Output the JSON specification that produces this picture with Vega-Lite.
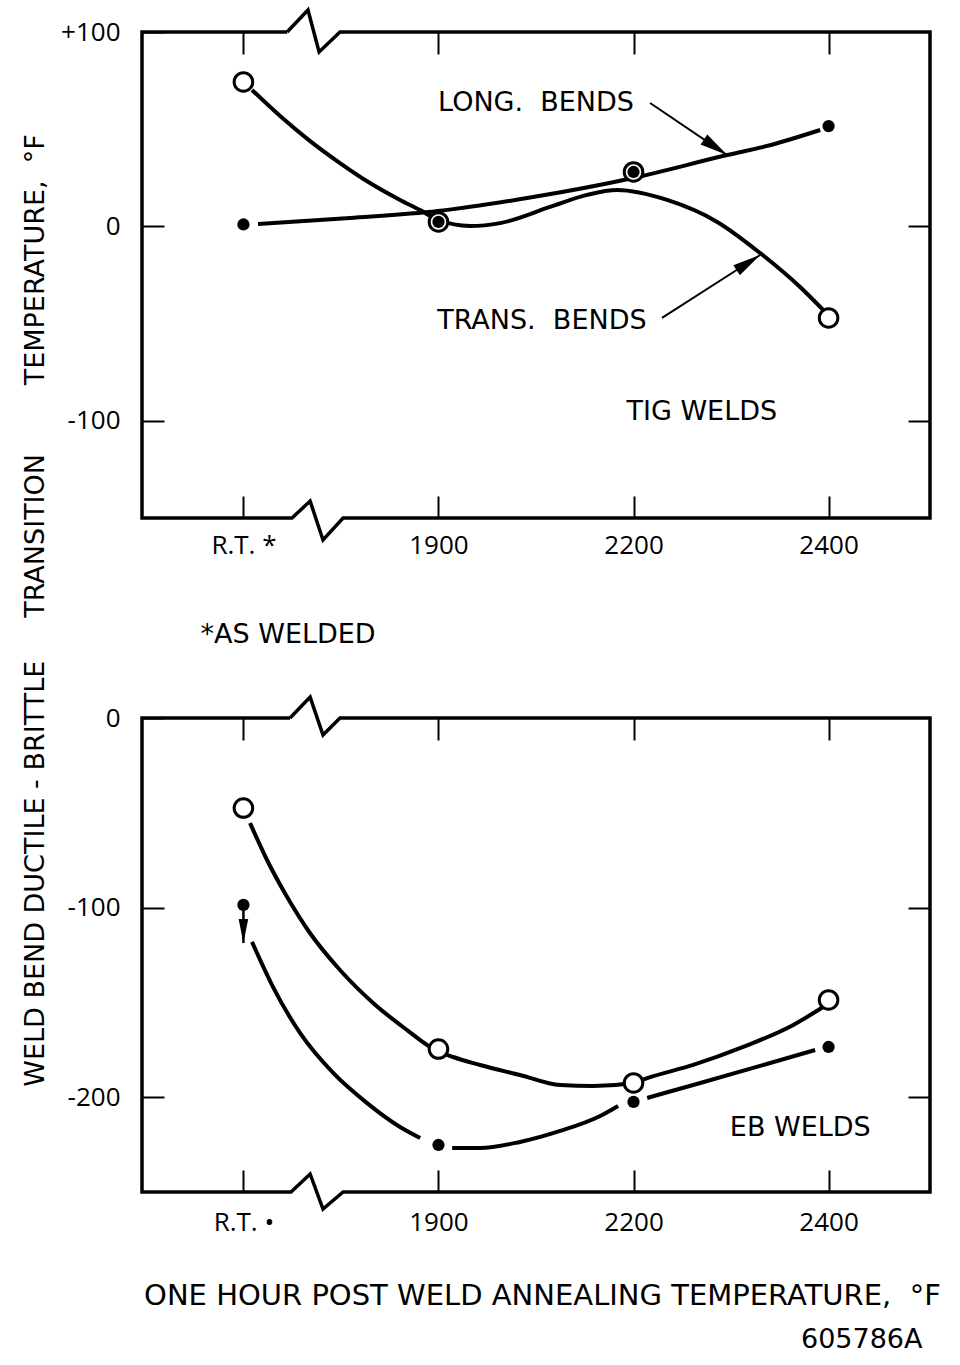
{
  "$schema": "https://vega.github.io/schema/vega-lite/v6.json",
  "padding": {"left": 21, "top": 3, "right": 5, "bottom": 5},
  "background": "white",
  "bounds": "flush",
  "spacing": 200,
  "config": {
    "view": {"stroke": null},
    "font": "DejaVu Sans",
    "axis": {"grid": false, "domain": false, "tickColor": "black", "tickWidth": 2, "tickSize": -22, "labelFont": "Open Sans", "labelFontSize": 26, "labelColor": "black", "titleColor": "black", "titleFont": "DejaVu Sans", "titleFontWeight": "normal", "titleFontSize": 27, "labelPadding": 44}
  },
  "datasets": {
    "frameTop": [
      {"o": 1, "x": 0.224, "y": 100}, {"o": 2, "x": -0.52, "y": 100}, {"o": 3, "x": -0.52, "y": -150}, {"o": 4, "x": 0.249, "y": -150},
      {"o": 5, "x": 0.342, "y": -141.3}, {"o": 6, "x": 0.408, "y": -161.3}, {"o": 7, "x": 0.511, "y": -150}, {"o": 8, "x": 3.52, "y": -150},
      {"o": 9, "x": 3.52, "y": 100}, {"o": 10, "x": 0.495, "y": 100}, {"o": 11, "x": 0.388, "y": 89.7}, {"o": 12, "x": 0.331, "y": 111.3}, {"o": 13, "x": 0.224, "y": 100}
    ],
    "frameBottom": [
      {"o": 1, "x": 0.239, "y": 0}, {"o": 2, "x": -0.52, "y": 0}, {"o": 3, "x": -0.52, "y": -250}, {"o": 4, "x": 0.244, "y": -250},
      {"o": 5, "x": 0.342, "y": -240.5}, {"o": 6, "x": 0.408, "y": -259}, {"o": 7, "x": 0.511, "y": -250}, {"o": 8, "x": 3.52, "y": -250},
      {"o": 9, "x": 3.52, "y": 0}, {"o": 10, "x": 0.495, "y": 0}, {"o": 11, "x": 0.408, "y": -9}, {"o": 12, "x": 0.342, "y": 11}, {"o": 13, "x": 0.239, "y": 0}
    ],
    "tigCurves": [
      {"series": "trans", "o": 1, "x": 0.044, "y": 70.2},
      {"series": "trans", "o": 2, "x": 0.188, "y": 56.8},
      {"series": "trans", "o": 3, "x": 0.342, "y": 43.9},
      {"series": "trans", "o": 4, "x": 0.495, "y": 32.6},
      {"series": "trans", "o": 5, "x": 0.649, "y": 22.3},
      {"series": "trans", "o": 6, "x": 0.803, "y": 13.6},
      {"series": "trans", "o": 7, "x": 0.906, "y": 8.4},
      {"series": "trans", "o": 8, "x": 0.998, "y": 3.3},
      {"series": "trans", "o": 9, "x": 1.162, "y": 0.2},
      {"series": "trans", "o": 10, "x": 1.316, "y": 1.7},
      {"series": "trans", "o": 11, "x": 1.572, "y": 10.0},
      {"series": "trans", "o": 12, "x": 1.762, "y": 16.2},
      {"series": "trans", "o": 13, "x": 1.916, "y": 18.7},
      {"series": "trans", "o": 14, "x": 2.172, "y": 13.6},
      {"series": "trans", "o": 15, "x": 2.429, "y": 2.3},
      {"series": "trans", "o": 16, "x": 2.649, "y": -13.7},
      {"series": "trans", "o": 17, "x": 2.854, "y": -31.2},
      {"series": "trans", "o": 18, "x": 2.982, "y": -44.0},
      {"series": "long", "o": 1, "x": 0.075, "y": 1.2},
      {"series": "long", "o": 2, "x": 0.547, "y": 4.3},
      {"series": "long", "o": 3, "x": 0.998, "y": 7.9},
      {"series": "long", "o": 4, "x": 1.485, "y": 15.1},
      {"series": "long", "o": 5, "x": 1.998, "y": 24.9},
      {"series": "long", "o": 6, "x": 2.48, "y": 36.7},
      {"series": "long", "o": 7, "x": 2.685, "y": 41.4},
      {"series": "long", "o": 8, "x": 2.957, "y": 49.6}
    ],
    "tigOpen": [{"x": 0, "y": 74.3}, {"x": 1, "y": 2.3}, {"x": 2, "y": 28}, {"x": 3, "y": -47.1}],
    "tigDot": [{"x": 0, "y": 1}, {"x": 1, "y": 2.3}, {"x": 2, "y": 28}, {"x": 3, "y": 51.6}],
    "tigArrows": [
      {"name": "long", "x": 2.085, "y": 63.5, "x2": 2.48, "y2": 36.7},
      {"name": "trans", "x": 2.146, "y": -47.1, "x2": 2.649, "y2": -14.7}
    ],
    "tigText": [
      {"text": "LONG.\u00a0\u00a0BENDS", "x": 1.5, "y": 63.5},
      {"text": "TRANS.\u00a0\u00a0BENDS", "x": 1.53, "y": -48.7},
      {"text": "TIG WELDS", "x": 2.35, "y": -95.5},
      {"text": "*AS WELDED", "x": 0.229, "y": -210.2}
    ],
    "ebCurves": [
      {"series": "open", "o": 1, "x": 0.034, "y": -55.4},
      {"series": "open", "o": 2, "x": 0.121, "y": -74.9},
      {"series": "open", "o": 3, "x": 0.224, "y": -94.4},
      {"series": "open", "o": 4, "x": 0.341, "y": -113.4},
      {"series": "open", "o": 5, "x": 0.495, "y": -132.9},
      {"series": "open", "o": 6, "x": 0.665, "y": -150.3},
      {"series": "open", "o": 7, "x": 0.839, "y": -164.6},
      {"series": "open", "o": 8, "x": 0.983, "y": -175.1},
      {"series": "open", "o": 9, "x": 1.075, "y": -178.8},
      {"series": "open", "o": 10, "x": 1.213, "y": -183.0},
      {"series": "open", "o": 11, "x": 1.418, "y": -188.3},
      {"series": "open", "o": 12, "x": 1.624, "y": -193.6},
      {"series": "open", "o": 13, "x": 1.793, "y": -194.1},
      {"series": "open", "o": 14, "x": 1.998, "y": -192.5},
      {"series": "open", "o": 15, "x": 2.07, "y": -189.9},
      {"series": "open", "o": 16, "x": 2.306, "y": -183.0},
      {"series": "open", "o": 17, "x": 2.562, "y": -173.5},
      {"series": "open", "o": 18, "x": 2.819, "y": -161.9},
      {"series": "open", "o": 19, "x": 2.972, "y": -152.4},
      {"series": "dot1", "o": 1, "x": 0.044, "y": -118.1},
      {"series": "dot1", "o": 2, "x": 0.152, "y": -141.9},
      {"series": "dot1", "o": 3, "x": 0.29, "y": -166.1},
      {"series": "dot1", "o": 4, "x": 0.46, "y": -187.2},
      {"series": "dot1", "o": 5, "x": 0.634, "y": -203.1},
      {"series": "dot1", "o": 6, "x": 0.803, "y": -215.7},
      {"series": "dot1", "o": 7, "x": 0.906, "y": -221.5},
      {"series": "dot2", "o": 1, "x": 1.07, "y": -226.8},
      {"series": "dot2", "o": 2, "x": 1.213, "y": -226.8},
      {"series": "dot2", "o": 3, "x": 1.418, "y": -223.6},
      {"series": "dot2", "o": 4, "x": 1.624, "y": -217.8},
      {"series": "dot2", "o": 5, "x": 1.829, "y": -209.9},
      {"series": "dot2", "o": 6, "x": 1.921, "y": -204.6},
      {"series": "dot3", "o": 1, "x": 2.07, "y": -200.4},
      {"series": "dot3", "o": 2, "x": 2.342, "y": -192.5},
      {"series": "dot3", "o": 3, "x": 2.649, "y": -183.5},
      {"series": "dot3", "o": 4, "x": 2.931, "y": -175.1}
    ],
    "ebOpen": [{"x": 0, "y": -47.5}, {"x": 1, "y": -174.6}, {"x": 2, "y": -192.5}, {"x": 3, "y": -148.7}],
    "ebDot": [{"x": 0, "y": -98.6}, {"x": 1, "y": -225.2}, {"x": 2, "y": -202.5}, {"x": 3, "y": -173.5}],
    "ebArrow": [{"x": 0, "y": -98.6, "y2": -118.7}],
    "ebText": [
      {"text": "EB WELDS", "x": 2.855, "y": -216.2},
      {"text": "605786A", "x": 3.17, "y": -328}
    ]
  },
  "vconcat": [
    {
      "width": 788,
      "height": 486,
      "encoding": {
        "x": {"field": "x", "type": "quantitative", "scale": {"domain": [-0.52, 3.52], "nice": false, "zero": false}, "axis": null},
        "y": {"field": "y", "type": "quantitative", "scale": {"domain": [-150, 100], "nice": false, "zero": false}, "axis": null}
      },
      "layer": [
        {
          "data": {"name": "frameTop"},
          "mark": {"type": "line", "color": "black", "strokeWidth": 3.5, "strokeJoin": "miter"},
          "encoding": {
            "x": {"field": "x", "type": "quantitative", "scale": {"domain": [-0.52, 3.52], "nice": false, "zero": false},
              "axis": {"orient": "bottom", "values": [0, 1, 2, 3], "labelExpr": "['R.T. *', '1900', '2200', '2400'][datum.value]", "title": null, "labelPadding": 36}},
            "y": {"field": "y", "type": "quantitative", "scale": {"domain": [-150, 100], "nice": false, "zero": false},
              "axis": {"orient": "left", "values": [100, 0, -100], "labelExpr": "datum.value > 0 ? '+' + datum.value : (datum.value < 0 ? '-' + abs(datum.value) : '0')",
                "title": "WELD BEND DUCTILE - BRITTLE\u00a0\u00a0\u00a0\u00a0\u00a0TRANSITION\u00a0\u00a0\u00a0\u00a0\u00a0\u00a0\u00a0\u00a0TEMPERATURE,\u00a0\u00a0°F",
                "titleX": -107, "titleY": 578, "titleBaseline": "middle", "titleAlign": "center", "titleAngle": -90}},
            "order": {"field": "o", "type": "quantitative"}
          }
        },
        {
          "data": {"name": "tigCurves"},
          "mark": {"type": "line", "color": "black", "strokeWidth": 4, "interpolate": "monotone"},
          "encoding": {
            "x": {"field": "x", "type": "quantitative", "scale": {"domain": [-0.52, 3.52], "nice": false, "zero": false},
              "axis": {"orient": "top", "values": [0, 1, 2, 3], "labels": false, "title": null}},
            "y": {"field": "y", "type": "quantitative", "scale": {"domain": [-150, 100], "nice": false, "zero": false},
              "axis": {"orient": "right", "values": [0, -100], "labels": false, "title": null}},
            "detail": {"field": "series"},
            "order": {"field": "o", "type": "quantitative"}
          }
        },
        {
          "data": {"name": "tigOpen"},
          "mark": {"type": "point", "shape": "circle", "filled": true, "fill": "white", "stroke": "black", "strokeWidth": 3, "size": 346, "opacity": 1}
        },
        {
          "data": {"name": "tigDot"},
          "mark": {"type": "circle", "color": "black", "size": 150, "opacity": 1}
        },
        {
          "data": {"name": "tigArrows"},
          "mark": {"type": "rule", "color": "black", "strokeWidth": 2},
          "encoding": {"x2": {"field": "x2"}, "y2": {"field": "y2"}}
        },
        {
          "data": {"name": "tigArrows"},
          "transform": [{"filter": "datum.name == 'long'"}],
          "mark": {"type": "point", "shape": "M-2,-0.43L0,0L-2,0.43Z", "filled": true, "color": "black", "opacity": 1, "size": 784, "angle": 34},
          "encoding": {
            "x": {"field": "x2", "type": "quantitative", "axis": null},
            "y": {"field": "y2", "type": "quantitative", "axis": null}
          }
        },
        {
          "data": {"name": "tigArrows"},
          "transform": [{"filter": "datum.name == 'trans'"}],
          "mark": {"type": "point", "shape": "M-2,-0.43L0,0L-2,0.43Z", "filled": true, "color": "black", "opacity": 1, "size": 784, "angle": -33},
          "encoding": {
            "x": {"field": "x2", "type": "quantitative", "axis": null},
            "y": {"field": "y2", "type": "quantitative", "axis": null}
          }
        },
        {
          "data": {"name": "tigText"},
          "mark": {"type": "text", "color": "black", "font": "DejaVu Sans", "fontSize": 27, "align": "center", "baseline": "middle"},
          "encoding": {"text": {"field": "text"}}
        }
      ],
      "resolve": {"axis": {"x": "independent", "y": "independent"}}
    },
    {
      "width": 788,
      "height": 474,
      "encoding": {
        "x": {"field": "x", "type": "quantitative", "scale": {"domain": [-0.52, 3.52], "nice": false, "zero": false}, "axis": null},
        "y": {"field": "y", "type": "quantitative", "scale": {"domain": [-250, 0], "nice": false, "zero": false}, "axis": null}
      },
      "layer": [
        {
          "data": {"name": "frameBottom"},
          "mark": {"type": "line", "color": "black", "strokeWidth": 3.5, "strokeJoin": "miter"},
          "encoding": {
            "x": {"field": "x", "type": "quantitative", "scale": {"domain": [-0.52, 3.52], "nice": false, "zero": false},
              "axis": {"orient": "bottom", "values": [0, 1, 2, 3], "labelExpr": "['R.T. •', '1900', '2200', '2400'][datum.value]", "labelPadding": 39,
                "title": "ONE HOUR POST WELD ANNEALING TEMPERATURE,\u00a0\u00a0°F", "titleFontSize": 29, "titleX": 400, "titleY": 103, "titleBaseline": "middle", "titleAlign": "center"}},
            "y": {"field": "y", "type": "quantitative", "scale": {"domain": [-250, 0], "nice": false, "zero": false},
              "axis": {"orient": "left", "values": [0, -100, -200], "labelExpr": "datum.value < 0 ? '-' + abs(datum.value) : '0'", "title": null}},
            "order": {"field": "o", "type": "quantitative"}
          }
        },
        {
          "data": {"name": "ebCurves"},
          "mark": {"type": "line", "color": "black", "strokeWidth": 4, "interpolate": "monotone"},
          "encoding": {
            "x": {"field": "x", "type": "quantitative", "scale": {"domain": [-0.52, 3.52], "nice": false, "zero": false},
              "axis": {"orient": "top", "values": [0, 1, 2, 3], "labels": false, "title": null}},
            "y": {"field": "y", "type": "quantitative", "scale": {"domain": [-250, 0], "nice": false, "zero": false},
              "axis": {"orient": "right", "values": [-100, -200], "labels": false, "title": null}},
            "detail": {"field": "series"},
            "order": {"field": "o", "type": "quantitative"}
          }
        },
        {
          "data": {"name": "ebOpen"},
          "mark": {"type": "point", "shape": "circle", "filled": true, "fill": "white", "stroke": "black", "strokeWidth": 3, "size": 346, "opacity": 1}
        },
        {
          "data": {"name": "ebDot"},
          "mark": {"type": "circle", "color": "black", "size": 150, "opacity": 1}
        },
        {
          "data": {"name": "ebArrow"},
          "mark": {"type": "rule", "color": "black", "strokeWidth": 2.5},
          "encoding": {"y2": {"field": "y2"}}
        },
        {
          "data": {"name": "ebArrow"},
          "mark": {"type": "point", "shape": "M-0.4,-2L0,0L0.4,-2Z", "filled": true, "color": "black", "opacity": 1, "size": 576},
          "encoding": {
            "y": {"field": "y2", "type": "quantitative", "axis": null}
          }
        },
        {
          "data": {"name": "ebText"},
          "mark": {"type": "text", "color": "black", "font": "DejaVu Sans", "fontSize": 27, "align": "center", "baseline": "middle"},
          "encoding": {"text": {"field": "text"}}
        }
      ],
      "resolve": {"axis": {"x": "independent", "y": "independent"}}
    }
  ]
}
